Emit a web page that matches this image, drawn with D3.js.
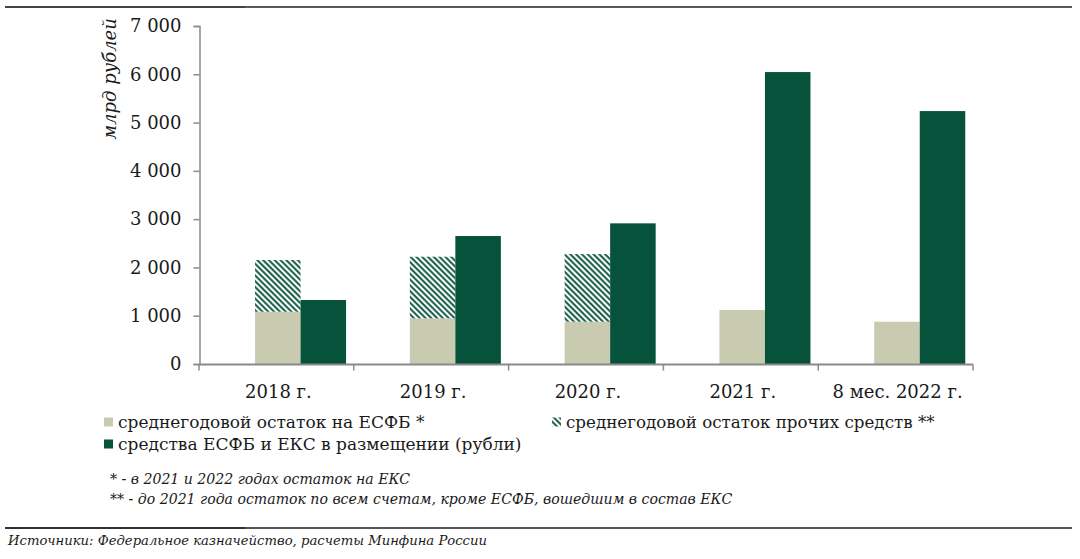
<!DOCTYPE html>
<html><head><meta charset="utf-8">
<script src="https://cdn.jsdelivr.net/npm/d3@7"></script>
<style>
html,body{margin:0;padding:0;background:#fff;}
svg{display:block;}
text{font-family:"DejaVu Serif","Liberation Serif",serif;fill:#1a1a1a;}
</style></head>
<body>
<script>
const categories = ["2018 г.", "2019 г.", "2020 г.", "2021 г.", "8 мес. 2022 г."];
const esfbBalance = [1083, 946, 876, 1118, 876];
const otherFunds = [1070, 1276, 1401, 0, 0];
const placedFunds = [1325, 2650, 2913, 6046, 5238];
const yTicks = [0, 1000, 2000, 3000, 4000, 5000, 6000, 7000];
const legendLabels = ["среднегодовой остаток на ЕСФБ *", "среднегодовой остаток прочих средств **", "средства ЕСФБ и ЕКС в размещении (рубли)"];
const footnotes = ["* - в 2021 и 2022 годах остаток на ЕКС", "** - до 2021 года остаток по всем счетам, кроме ЕСФБ, вошедшим в состав ЕКС"];
const sourceText = "Источники: Федеральное казначейство, расчеты Минфина России";
const yTitle = "млрд рублей";

const W = 1080, H = 559;
const LIGHT = "#c9cbb1", DARK = "#06523a";
const svg = d3.select("body").append("svg").attr("width", W).attr("height", H);

const defs = svg.append("defs");
const pat = defs.append("pattern").attr("id", "hatch").attr("patternUnits", "userSpaceOnUse")
  .attr("width", 4.1).attr("height", 4.1).attr("patternTransform", "rotate(45)");
pat.append("rect").attr("width", 4.1).attr("height", 4.1).attr("fill", "#fff");
pat.append("line").attr("x1", 0).attr("y1", 2).attr("x2", 4.1).attr("y2", 2)
  .attr("stroke", DARK).attr("stroke-width", 1.9);

const x = d3.scaleBand().domain(categories).range([199, 973]).padding(0);
const sub = d3.scaleBand().domain(["a", "b"]).range([0.362 * x.bandwidth(), 0.95 * x.bandwidth()]).padding(0);
const y = d3.scaleLinear().domain([0, 7000]).range([364, 26]);

// frame lines
svg.append("line").attr("x1", 5).attr("x2", 1072).attr("y1", 7).attr("y2", 7).attr("stroke", "#222").attr("stroke-width", 1.3);
svg.append("line").attr("x1", 5).attr("x2", 245).attr("y1", 7).attr("y2", 7).attr("stroke", "#444").attr("stroke-width", 2.2);
svg.append("line").attr("x1", 5).attr("x2", 1072).attr("y1", 528).attr("y2", 528).attr("stroke", "#555").attr("stroke-width", 2);
svg.append("line").attr("x1", 5).attr("x2", 245).attr("y1", 528).attr("y2", 528).attr("stroke", "#111").attr("stroke-width", 1.2);

// bars
const g = svg.append("g");
categories.forEach((c, i) => {
  const x0 = x(c);
  g.append("rect").attr("x", x0 + sub("a")).attr("width", sub.bandwidth())
    .attr("y", y(esfbBalance[i])).attr("height", y(0) - y(esfbBalance[i])).attr("fill", LIGHT);
  if (otherFunds[i] > 0) {
    g.append("rect").attr("x", x0 + sub("a")).attr("width", sub.bandwidth())
      .attr("y", y(esfbBalance[i] + otherFunds[i])).attr("height", y(esfbBalance[i]) - y(esfbBalance[i] + otherFunds[i]))
      .attr("fill", "url(#hatch)");
  }
  g.append("rect").attr("x", x0 + sub("b")).attr("width", sub.bandwidth())
    .attr("y", y(placedFunds[i])).attr("height", y(0) - y(placedFunds[i])).attr("fill", DARK);
});

// y axis
const yAxis = svg.append("g").attr("transform", "translate(199.5,0)")
  .call(d3.axisLeft(y).tickValues(yTicks).tickSize(6).tickPadding(12)
    .tickFormat(d => d3.format(",")(d).replace(/,/g, " ")));
yAxis.select(".domain").attr("stroke", "#8a8a8a").attr("stroke-width", 1.5);
yAxis.selectAll(".tick line").attr("stroke", "#8a8a8a").attr("stroke-width", 1.5);
yAxis.selectAll("text").attr("font-size", 18).attr("font-family", "DejaVu Serif").attr("fill", "#1a1a1a");

// x axis
const xAxisG = svg.append("g").attr("transform", "translate(0,364.5)");
xAxisG.append("line").attr("x1", 199).attr("x2", 973).attr("stroke", "#8a8a8a").attr("stroke-width", 2);
const bounds = categories.map(c => x(c)).concat([x.range()[1]]);
xAxisG.selectAll("line.tk").data(bounds).join("line").attr("class", "tk")
  .attr("x1", d => d).attr("x2", d => d).attr("y1", 0).attr("y2", 6)
  .attr("stroke", "#8a8a8a").attr("stroke-width", 1.5);
xAxisG.selectAll("text").data(categories).join("text")
  .attr("x", d => x(d) + x.bandwidth() / 2 + 2).attr("y", 33.5)
  .attr("text-anchor", "middle").attr("font-size", 18).text(d => d);

// y title
svg.append("text").attr("transform", "translate(116,79) rotate(-90)")
  .attr("text-anchor", "middle").attr("font-size", 18).attr("font-style", "italic").text(yTitle);

// legend
const leg = [
  {x: 104, y: 422, fill: LIGHT, label: legendLabels[0], fs: 17},
  {x: 552, y: 422, fill: "url(#hatch)", label: legendLabels[1], fs: 16.7},
  {x: 104, y: 444, fill: DARK, label: legendLabels[2], fs: 17}
];
leg.forEach(l => {
  svg.append("rect").attr("x", l.x).attr("y", l.y - 4.5).attr("width", 9).attr("height", 9).attr("fill", l.fill);
  svg.append("text").attr("x", l.x + 14).attr("y", l.y + 5.5).attr("font-size", l.fs).text(l.label);
});

// footnotes
footnotes.forEach((f, i) => {
  svg.append("text").attr("x", 110).attr("y", 484 + i * 20).attr("font-size", 14.1)
    .attr("font-style", "italic").text(f);
});

// source
svg.append("text").attr("x", 8).attr("y", 545).attr("font-size", 13.2).attr("font-style", "italic").text(sourceText);
</script>
</body></html>
